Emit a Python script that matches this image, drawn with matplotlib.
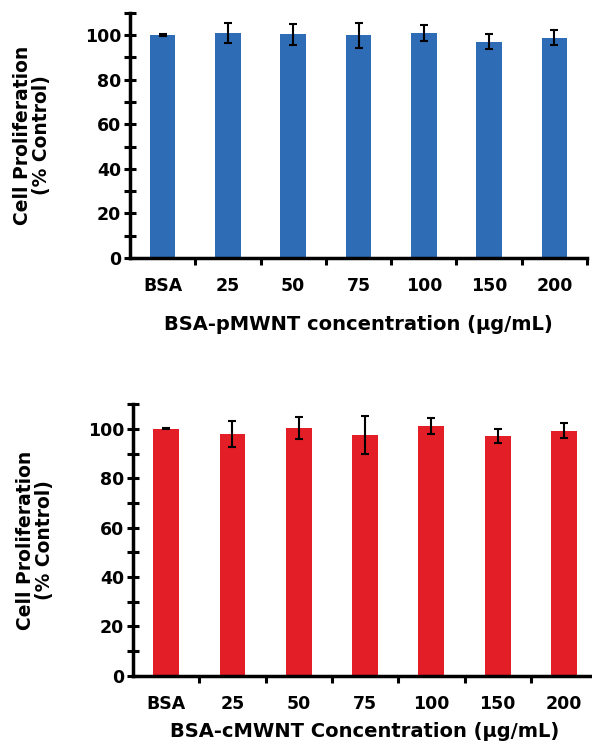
import numpy as np
import matplotlib.pyplot as plt
from matplotlib.ticker import MultipleLocator, FixedLocator, NullFormatter

# Viability of cells after 24 h exposure to BSA-coated nanotubes
categories = ['BSA', '25', '50', '75', '100', '150', '200']

p_mean = [100.0, 101.0, 100.3, 99.8, 101.0, 97.0, 98.8]
p_err = [0.3, 4.5, 4.6, 5.7, 3.7, 3.3, 3.3]

c_mean = [100.0, 98.0, 100.3, 97.6, 101.2, 97.1, 99.3]
c_err = [0.2, 5.4, 4.5, 7.7, 3.4, 2.7, 3.0]

plt.rcParams['font.family'] = 'DejaVu Sans'
plt.rcParams['font.weight'] = 'bold'


def panel(ax, mean, err, color, xlabel, xpad):
    x = np.arange(len(categories))
    ax.bar(x, mean, width=0.39, color=color)
    ax.errorbar(x, mean, yerr=err, fmt='none', ecolor='black',
                elinewidth=1.5, capsize=3, capthick=1.5)
    ax.set_xlim(-0.5, len(categories) - 0.5)
    ax.set_ylim(0, 110)
    ax.spines['top'].set_visible(False)
    ax.spines['right'].set_visible(False)
    ax.spines['left'].set_linewidth(2.5)
    ax.spines['bottom'].set_linewidth(2.5)

    ax.yaxis.set_major_locator(MultipleLocator(20))
    ax.yaxis.set_minor_locator(MultipleLocator(10))
    ax.tick_params(axis='y', which='both', direction='inout', width=2.2,
                   length=9, labelsize=12.5, pad=2)

    # category labels sit between the boundary ticks
    ax.xaxis.set_major_locator(FixedLocator(x + 0.5))
    ax.xaxis.set_major_formatter(NullFormatter())
    ax.xaxis.set_minor_locator(FixedLocator(x))
    ax.set_xticklabels(categories, minor=True)
    ax.tick_params(axis='x', which='major', direction='out', width=2.2,
                   length=5)
    ax.tick_params(axis='x', which='minor', length=0, labelsize=12.5, pad=14)

    ax.set_xlabel(xlabel, fontsize=14, fontweight='bold', labelpad=xpad)
    ax.set_ylabel('Cell Proliferation\n(% Control)', fontsize=13.5,
                  fontweight='bold', labelpad=24, linespacing=1.05)


fig = plt.figure(figsize=(5.92, 7.5), dpi=100)
ax1 = fig.add_axes([0.2196, 0.6560, 0.772, 0.327])
ax2 = fig.add_axes([0.2247, 0.0990, 0.784, 0.362])

panel(ax1, p_mean, p_err, '#2E6CB5', 'BSA-pMWNT concentration (µg/mL)', 14)
panel(ax2, c_mean, c_err, '#E31E26', 'BSA-cMWNT Concentration (µg/mL)', 6)

fig.savefig('out.png', dpi=100)
plt.close(fig)
